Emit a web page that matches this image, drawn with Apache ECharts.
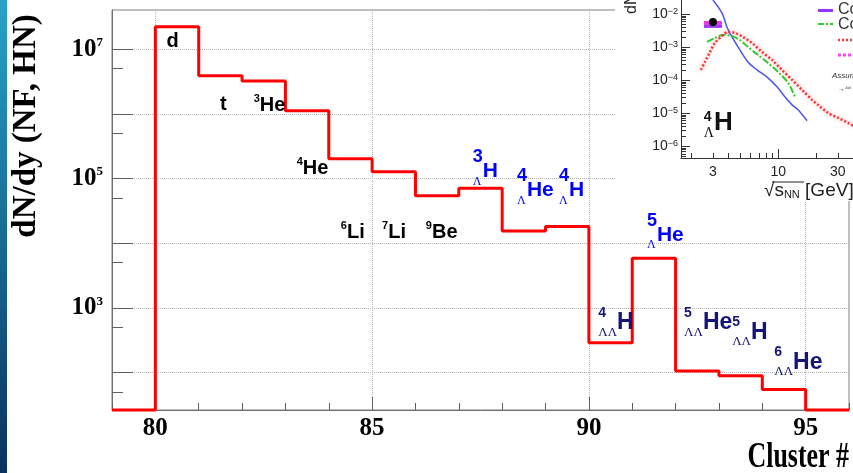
<!DOCTYPE html>
<html>
<head>
<meta charset="utf-8">
<title>dN/dy per cluster</title>
<script src="https://cdn.jsdelivr.net/npm/echarts@6/dist/echarts.min.js"></script>
<style>
  html, body { margin: 0; padding: 0; background: #fff; }
  #main { width: 853px; height: 473px; }
</style>
</head>
<body>
<div id="main"></div>
<script>
// ---- main histogram: lower bin edge and dN/dy of each cluster bin (0 = empty bin)
const clusters = [79, 80, 81, 82, 83, 84, 85, 86, 87, 88, 89, 90, 91, 92, 93, 94, 95];
const dndy = [0, 2.23e7, 3.9e6, 3.24e6, 1.12e6, 2.03e5, 1.28e5, 5.44e4, 7.09e4, 1.55e4, 1.81e4, 290, 5870, 106, 89, 55, 0];
const xMin = 79, xMax = 96;
const yMin = 26.4, yMax = 4.05e7;
const xMajor = [80, 85, 90, 95];
const yDecades = [1e2, 1e3, 1e4, 1e5, 1e6, 1e7];
const yLabelled = [1e3, 1e5, 1e7];
const yMinor = [5e1, 5e2, 5e3, 5e4, 5e5, 5e6];

// ---- nucleus labels (anchor = left edge / middle of the element symbol)
const nucX = [80.26, 81.49, 82.41, 83.40, 84.42, 85.37, 86.38, 87.55, 88.57, 89.54, 91.57, 90.65, 92.63, 93.74, 94.71];
const nucY = [1.34e7, 1.38e6, 1.35e6, 1.41e5, 1.47e4, 1.47e4, 1.47e4, 1.29e5, 6.56e4, 6.56e4, 1.34e4, 586, 586, 418, 144];
const nucA = ['', '', '3', '4', '6', '7', '9', '3', '4', '4', '5', '4', '5', '5', '6'];
const nucSub = ['', '', '', '', '', '', '', 'Λ', 'Λ', 'Λ', 'Λ', 'ΛΛ', 'ΛΛ', 'ΛΛ', 'ΛΛ'];
const nucSym = ['d', 't', 'He', 'He', 'Li', 'Li', 'Be', 'H', 'He', 'H', 'He', 'H', 'He', 'H', 'He'];
const nucKind = ['k', 'k', 'k', 'k', 'k', 'k', 'k', 'b', 'b', 'b', 'b', 'n', 'n', 'n', 'n'];

// ---- inset (yield vs sqrt(s_NN))
const insetX = [1.664, 39.7];
const insetY = [4.47e-7, 0.027];
const blueS = [3.00, 3.54, 3.88, 4.26, 4.93, 5.72, 6.76, 8.27, 9.77, 11.3, 12.9, 14.4, 17.0];
const blueY = [0.027, 0.01094, 4.13e-3, 2.06e-3, 8.32e-4, 3.61e-4, 2.07e-4, 1.19e-4, 6.35e-5, 3.17e-5, 1.81e-5, 1.28e-5, 5.97e-6];
const greenS = [2.69, 3.11, 3.61, 4.26, 4.93, 5.72, 6.87, 8.27, 9.94, 12.0, 13.6];
const greenY = [1.46e-3, 1.92e-3, 2.36e-3, 2.20e-3, 1.66e-3, 1.03e-3, 5.89e-4, 3.38e-4, 1.81e-4, 8.4e-5, 3.17e-5];
const redS = [2.40, 2.59, 2.84, 3.11, 3.54, 3.96, 4.50, 5.21, 6.15, 7.40, 8.91, 10.7, 12.9, 15.5, 18.6, 20.8, 25.0, 30.1, 36.1, 41.1];
const redY = [2.07e-4, 3.62e-4, 7.23e-4, 1.36e-3, 2.21e-3, 2.92e-3, 2.72e-3, 2.06e-3, 1.36e-3, 7.26e-4, 4.16e-4, 2.07e-4, 1.04e-4, 5.16e-5, 2.58e-5, 1.82e-5, 1.04e-5, 7.36e-6, 5.2e-6, 3.94e-6];
const pointS = [3.0];
const pointY = [5.85e-3];
const boxS = [2.54, 3.54];
const boxY = [6.28e-3, 4.75e-3, 3.86e-3];
const insetXLabels = [3, 10, 30];
const insetXMinor = [2, 3, 4, 5, 6, 7, 8, 9, 20, 30];
const insetYMajor = [1e-6, 1e-5, 1e-4, 1e-3, 1e-2];

const SERIF = '"Liberation Serif", "Times New Roman", serif';
const SANS = '"Liberation Sans Narrow", "Liberation Sans", Arial, sans-serif';
const HELV = '"Liberation Sans", Arial, sans-serif';
const BLUE = '#0000ff';
const NAVY = '#14147a';

let insetYMinor = [];
for (let d = 1e-7; d < 1e-2; d *= 10) {
    for (let m = 2; m <= 9; m++) insetYMinor.push(m * d);
}

// histogram as step line, empty bins sit on the frame bottom
let histData = clusters.map((c, i) => [c, dndy[i] > 0 ? dndy[i] : yMin]);
histData.push([xMax, histData[histData.length - 1][1]]);

const nucData = nucX.map((x, i) => [x, nucY[i]]);

const noBorder = { textBorderWidth: 0, textBorderColor: 'transparent', textShadowBlur: 0 };
const nucRich = {
    k:  Object.assign({ fontFamily: SANS, fontWeight: 'bold', fontSize: 20, lineHeight: 24, color: '#000' }, noBorder),
    kA: Object.assign({ fontFamily: SANS, fontWeight: 'bold', fontSize: 11, lineHeight: 13, color: '#000', align: 'left' }, noBorder),
    kS: Object.assign({ fontFamily: SERIF, fontSize: 11, lineHeight: 13, color: '#000', align: 'left' }, noBorder),
    b:  Object.assign({ fontFamily: SANS, fontWeight: 'bold', fontSize: 21, lineHeight: 24, color: BLUE }, noBorder),
    bA: Object.assign({ fontFamily: SANS, fontWeight: 'bold', fontSize: 18, lineHeight: 20, color: BLUE, align: 'left' }, noBorder),
    bS: Object.assign({ fontFamily: SERIF, fontSize: 12, lineHeight: 29, color: BLUE, align: 'left' }, noBorder),
    n:  Object.assign({ fontFamily: SANS, fontWeight: 'bold', fontSize: 23, lineHeight: 26, color: NAVY }, noBorder),
    nA: Object.assign({ fontFamily: SANS, fontWeight: 'bold', fontSize: 14, lineHeight: 19, color: NAVY, align: 'left' }, noBorder),
    nS: Object.assign({ fontFamily: SERIF, fontSize: 13, lineHeight: 20, color: NAVY, align: 'left' }, noBorder)
};

function powLabel(v) {
    const e = Math.round(Math.log10(v));
    return '{b|10}{e|' + e + '}';
}
function negPowLabel(v) {
    const e = Math.round(Math.log10(v));
    return '{b|10}{e|\u2212' + (-e) + '}';
}

const chart = echarts.init(document.getElementById('main'));

const option = {
    animation: false,
    backgroundColor: '#ffffff',
    grid: [
        { left: 112, right: 4, top: 10, bottom: 63, show: true, borderColor: '#808080', borderWidth: 1,
          containLabel: false, outerBoundsMode: 'none', z: 0 },
        { left: 681, right: 0, top: 0, bottom: 315, show: false,
          containLabel: false, outerBoundsMode: 'none', z: 3 }
    ],
    xAxis: [
        {
            gridIndex: 0, type: 'value', min: xMin, max: xMax, position: 'bottom', z: 0,
            axisLine: { onZero: false, lineStyle: { color: '#707070', width: 1 } },
            axisTick: { inside: true, length: 13, customValues: xMajor, lineStyle: { color: '#606060' } },
            axisLabel: { customValues: xMajor, margin: 6, fontFamily: SERIF, fontWeight: 'bold', fontSize: 25, color: '#000' },
            splitLine: { show: true, lineStyle: { color: '#b4b4b4', type: 'dotted', width: 1 } }
        },
        {
            gridIndex: 0, type: 'value', min: xMin, max: xMax, interval: 1, position: 'bottom', z: 0,
            axisLine: { show: false },
            axisTick: { inside: true, length: 7, lineStyle: { color: '#606060' } },
            axisLabel: { show: false },
            splitLine: { show: false }
        },
        {
            gridIndex: 1, type: 'log', logBase: 10, min: insetX[0], max: insetX[1], position: 'bottom', z: 3,
            axisLine: { onZero: false, lineStyle: { color: '#333', width: 1 } },
            axisTick: { inside: true, length: 5, customValues: insetXMinor, lineStyle: { color: '#333' } },
            axisLabel: { customValues: insetXLabels, margin: 7, fontFamily: HELV, fontSize: 14, color: '#222',
                         formatter: v => String(Math.round(v)) },
            splitLine: { show: false }
        },
        {
            gridIndex: 1, type: 'log', logBase: 10, min: insetX[0], max: insetX[1], position: 'bottom', z: 3,
            axisLine: { show: false },
            axisTick: { inside: true, length: 9, customValues: [10], lineStyle: { color: '#333' } },
            axisLabel: { show: false },
            splitLine: { show: false }
        }
    ],
    yAxis: [
        {
            gridIndex: 0, type: 'log', logBase: 10, min: yMin, max: yMax, position: 'left', z: 0,
            axisLine: { show: true, onZero: false, lineStyle: { color: '#707070', width: 1 } },
            axisTick: { show: true, inside: true, length: 21, customValues: yDecades, lineStyle: { color: '#606060' } },
            axisLabel: {
                customValues: yLabelled, margin: 9, formatter: powLabel,
                rich: {
                    b: { fontFamily: SERIF, fontWeight: 'bold', fontSize: 25, lineHeight: 26, color: '#000' },
                    e: { fontFamily: SERIF, fontWeight: 'bold', fontSize: 13, lineHeight: 13, color: '#000', verticalAlign: 'top' }
                }
            },
            splitLine: { show: true, lineStyle: { color: '#b4b4b4', type: 'dotted', width: 1 } }
        },
        {
            gridIndex: 0, type: 'log', logBase: 10, min: yMin, max: yMax, position: 'left', z: 0,
            axisLine: { show: false },
            axisTick: { show: true, inside: true, length: 11, customValues: yMinor, lineStyle: { color: '#606060' } },
            axisLabel: { show: false },
            splitLine: { show: false }
        },
        {
            gridIndex: 1, type: 'log', logBase: 10, min: insetY[0], max: insetY[1], position: 'left', z: 3,
            axisLine: { show: true, onZero: false, lineStyle: { color: '#333', width: 1 } },
            axisTick: { show: true, inside: true, length: 9, customValues: insetYMajor, lineStyle: { color: '#333' } },
            axisLabel: {
                customValues: insetYMajor, margin: 3, formatter: negPowLabel,
                rich: {
                    b: { fontFamily: HELV, fontSize: 14, lineHeight: 15, color: '#222' },
                    e: { fontFamily: HELV, fontSize: 9, lineHeight: 9, color: '#222', verticalAlign: 'top' }
                }
            },
            splitLine: { show: false }
        },
        {
            gridIndex: 1, type: 'log', logBase: 10, min: insetY[0], max: insetY[1], position: 'left', z: 3,
            axisLine: { show: false },
            axisTick: { show: true, inside: true, length: 5, customValues: insetYMinor, lineStyle: { color: '#333' } },
            axisLabel: { show: false },
            splitLine: { show: false }
        }
    ],
    series: [
        {
            name: 'dN/dy', type: 'line', xAxisIndex: 0, yAxisIndex: 0, step: 'end',
            data: histData, symbol: 'none', clip: false, z: 2,
            lineStyle: { color: '#ff0000', width: 3 }
        },
        {
            name: 'pre', type: 'scatter', xAxisIndex: 0, yAxisIndex: 0, data: nucData,
            symbolSize: 0, silent: true, z: 3, itemStyle: { color: '#000', opacity: 1 },
            label: Object.assign({
                show: true, position: 'inside', align: 'right', verticalAlign: 'middle', color: '#000', opacity: 1,
                formatter: p => {
                    const i = p.dataIndex, k = nucKind[i];
                    if (!nucA[i]) return '';
                    return '{' + k + 'A|' + nucA[i] + '}\n{' + k + 'S|' + (nucSub[i] || ' ') + '}';
                },
                rich: nucRich
            }, noBorder)
        },
        {
            name: 'sym', type: 'scatter', xAxisIndex: 0, yAxisIndex: 0, data: nucData,
            symbolSize: 0, silent: true, z: 3, itemStyle: { color: '#000', opacity: 1 },
            label: Object.assign({
                show: true, position: 'inside', align: 'left', verticalAlign: 'middle', color: '#000', opacity: 1,
                formatter: p => '{' + nucKind[p.dataIndex] + '|' + nucSym[p.dataIndex] + '}',
                rich: nucRich
            }, noBorder)
        },
        {
            name: 'blue', type: 'line', xAxisIndex: 2, yAxisIndex: 2, z: 4, symbol: 'none', smooth: 0.3,
            data: blueS.map((s, i) => [s, blueY[i]]),
            lineStyle: { color: '#4a55ee', width: 1.5 }
        },
        {
            name: 'green', type: 'line', xAxisIndex: 2, yAxisIndex: 2, z: 4, symbol: 'none', smooth: 0.3,
            data: greenS.map((s, i) => [s, greenY[i]]),
            lineStyle: { color: '#2ecc2e', width: 2, type: [7, 2, 2, 2] }
        },
        {
            name: 'red', type: 'line', xAxisIndex: 2, yAxisIndex: 2, z: 4, symbol: 'none', smooth: 0.3,
            data: redS.map((s, i) => [s, redY[i]]),
            lineStyle: { color: '#ff3030', width: 2.5, type: [2, 2], shadowBlur: 4, shadowColor: 'rgba(255,90,90,0.6)' }
        },
        {
            name: 'point', type: 'scatter', xAxisIndex: 2, yAxisIndex: 2, z: 5,
            data: pointS.map((s, i) => [s, pointY[i]]),
            symbolSize: 8, itemStyle: { color: '#000', opacity: 1 },
            markArea: {
                silent: true,
                data: [
                    [{ coord: [boxS[0], boxY[0]], itemStyle: { color: '#ee33ee', opacity: 1 } }, { coord: [boxS[1], boxY[1]] }],
                    [{ coord: [boxS[0], boxY[1]], itemStyle: { color: '#9a3cf0', opacity: 1 } }, { coord: [boxS[1], boxY[2]] }]
                ]
            }
        }
    ],
    graphic: [
        {
            type: 'rect', z: 10, shape: { x: 0, y: 0, width: 7, height: 473 },
            style: { fill: new echarts.graphic.LinearGradient(0, 0, 0, 1, [
                { offset: 0, color: '#27a3c6' }, { offset: 1, color: '#0a325e' }]) }
        },
        { type: 'rect', z: 1, shape: { x: 615, y: 0, width: 238, height: 201 }, style: { fill: '#ffffff' } },
        {
            type: 'text', x: 26, y: 126, rotation: Math.PI / 2,
            style: { text: 'dN/dy (NF, HN)', fontFamily: SERIF, fontWeight: 'bold', fontSize: 33,
                     align: 'center', verticalAlign: 'middle', fill: '#000' }
        },
        {
            type: 'text', x: 849, y: 458, scaleX: 0.72,
            style: { text: 'Cluster #', fontFamily: SERIF, fontWeight: 'bold', fontSize: 36,
                     align: 'right', verticalAlign: 'middle', fill: '#000' }
        },
        // inset decorations
        {
            type: 'text', x: 632, y: 14, rotation: Math.PI / 2, z: 6,
            style: { text: 'dN/dy', fontFamily: HELV, fontSize: 16, align: 'left', verticalAlign: 'middle', fill: '#222' }
        },
        {
            type: 'text', x: 714, y: 123, z: 6,
            style: {
                text: '{a|4}\n{l|Λ}', align: 'right', verticalAlign: 'middle',
                rich: {
                    a: { fontFamily: HELV, fontWeight: 'bold', fontSize: 14, lineHeight: 20, fill: '#111', align: 'left' },
                    l: { fontFamily: SERIF, fontSize: 14, lineHeight: 11, fill: '#111', align: 'left' }
                }
            }
        },
        {
            type: 'text', x: 714, y: 123, z: 6,
            style: { text: 'H', fontFamily: HELV, fontWeight: 'bold', fontSize: 26, align: 'left', verticalAlign: 'middle', fill: '#111' }
        },
        {
            type: 'text', x: 764, y: 191, z: 6,
            style: {
                text: '{r|√}{s|s}{n|NN}{g| [GeV]}', align: 'left', verticalAlign: 'middle',
                rich: {
                    r: { fontFamily: HELV, fontSize: 19, fill: '#222' },
                    s: { fontFamily: HELV, fontSize: 19, fill: '#222' },
                    n: { fontFamily: HELV, fontSize: 11, fill: '#222', verticalAlign: 'bottom' },
                    g: { fontFamily: HELV, fontSize: 19, fill: '#222' }
                }
            }
        },
        { type: 'line', z: 6, shape: { x1: 772, y1: 182, x2: 804, y2: 182 }, style: { stroke: '#222', lineWidth: 1 } },
        // inset legend (cut by the picture edge)
        { type: 'line', z: 6, shape: { x1: 818, y1: 10.5, x2: 833, y2: 10.5 }, style: { stroke: '#9933ff', lineWidth: 3 } },
        { type: 'text', x: 838, y: 10, z: 6, style: { text: 'Co', fontFamily: HELV, fontSize: 16, verticalAlign: 'middle', fill: '#333' } },
        { type: 'line', z: 6, shape: { x1: 818, y1: 24, x2: 833, y2: 24 }, style: { stroke: '#2ecc2e', lineWidth: 2, lineDash: [6, 2, 2, 2] } },
        { type: 'text', x: 838, y: 24.5, z: 6, style: { text: 'Co', fontFamily: HELV, fontSize: 16, verticalAlign: 'middle', fill: '#333' } },
        { type: 'line', z: 6, shape: { x1: 838, y1: 40, x2: 855, y2: 40 }, style: { stroke: '#ff3030', lineWidth: 2.5, lineDash: [2, 2] } },
        { type: 'line', z: 6, shape: { x1: 838, y1: 55, x2: 855, y2: 55 }, style: { stroke: '#ff44ff', lineWidth: 3, lineDash: [3, 2] } },
        { type: 'text', x: 832, y: 76, z: 6, style: { text: 'Assum', fontFamily: HELV, fontStyle: 'italic', fontSize: 8, verticalAlign: 'middle', fill: '#333' } },
        { type: 'text', x: 838, y: 89, z: 6, style: { text: '\u2192\u2074\u1d48', fontFamily: HELV, fontSize: 7, verticalAlign: 'middle', fill: '#333' } }
    ]
};

chart.setOption(option);
</script>
</body>
</html>
